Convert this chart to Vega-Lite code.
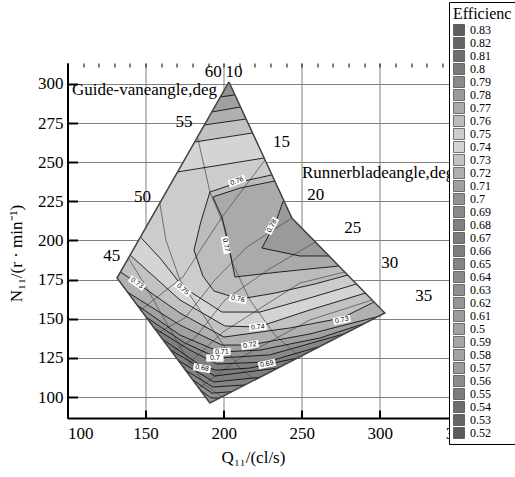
{
  "$schema": "https://vega.github.io/schema/vega-lite/v6.json",
  "width": 406,
  "height": 355,
  "autosize": "none",
  "padding": {"left": 67.5, "top": 63, "right": 41.5, "bottom": 59},
  "background": "white",
  "config": {"view": {"stroke": null}},
  "resolve": {"axis": {"x": "independent", "y": "independent"}},
  "datasets": {
    "bands": [
      {"id":1,"lev":0.62,"o":0,"q":203.4,"n":301.3},{"id":1,"lev":0.62,"o":1,"q":243.7,"n":214.4},{"id":1,"lev":0.62,"o":2,"q":303.2,"n":153.7},{"id":1,"lev":0.62,"o":3,"q":191.2,"n":96.2},{"id":1,"lev":0.62,"o":4,"q":131.7,"n":176.0},
      {"id":2,"lev":0.63,"o":0,"q":185.0,"n":104.5},{"id":2,"lev":0.63,"o":1,"q":191.8,"n":99.4},{"id":2,"lev":0.63,"o":2,"q":197.6,"n":99.4},{"id":2,"lev":0.63,"o":3,"q":303.2,"n":153.7},{"id":2,"lev":0.63,"o":4,"q":243.7,"n":214.4},{"id":2,"lev":0.63,"o":5,"q":203.4,"n":301.3},{"id":2,"lev":0.63,"o":6,"q":131.7,"n":176.0},
      {"id":3,"lev":0.64,"o":0,"q":180.3,"n":110.9},{"id":3,"lev":0.64,"o":1,"q":192.5,"n":102.5},{"id":3,"lev":0.64,"o":2,"q":205.3,"n":103.4},{"id":3,"lev":0.64,"o":3,"q":303.2,"n":153.7},{"id":3,"lev":0.64,"o":4,"q":243.7,"n":214.4},{"id":3,"lev":0.64,"o":5,"q":203.4,"n":301.3},{"id":3,"lev":0.64,"o":6,"q":131.7,"n":176.0},
      {"id":4,"lev":0.65,"o":0,"q":175.5,"n":117.2},{"id":4,"lev":0.65,"o":1,"q":193.1,"n":106.4},{"id":4,"lev":0.65,"o":2,"q":213.6,"n":107.7},{"id":4,"lev":0.65,"o":3,"q":303.2,"n":153.7},{"id":4,"lev":0.65,"o":4,"q":243.7,"n":214.4},{"id":4,"lev":0.65,"o":5,"q":203.4,"n":301.3},{"id":4,"lev":0.65,"o":6,"q":131.7,"n":176.0},
      {"id":5,"lev":0.66,"o":0,"q":170.7,"n":123.6},{"id":5,"lev":0.66,"o":1,"q":193.8,"n":109.6},{"id":5,"lev":0.66,"o":2,"q":223.2,"n":112.6},{"id":5,"lev":0.66,"o":3,"q":303.2,"n":153.7},{"id":5,"lev":0.66,"o":4,"q":243.7,"n":214.4},{"id":5,"lev":0.66,"o":5,"q":203.4,"n":301.3},{"id":5,"lev":0.66,"o":6,"q":131.7,"n":176.0},
      {"id":6,"lev":0.67,"o":0,"q":166.0,"n":130.0},{"id":6,"lev":0.67,"o":1,"q":194.4,"n":113.4},{"id":6,"lev":0.67,"o":2,"q":234.7,"n":118.5},{"id":6,"lev":0.67,"o":3,"q":303.2,"n":153.7},{"id":6,"lev":0.67,"o":4,"q":243.7,"n":214.4},{"id":6,"lev":0.67,"o":5,"q":203.4,"n":301.3},{"id":6,"lev":0.67,"o":6,"q":131.7,"n":176.0},
      {"id":7,"lev":0.68,"o":0,"q":160.7,"n":137.1},{"id":7,"lev":0.68,"o":1,"q":184.8,"n":120.4},{"id":7,"lev":0.68,"o":2,"q":195.0,"n":117.2},{"id":7,"lev":0.68,"o":3,"q":216.8,"n":118.5},{"id":7,"lev":0.68,"o":4,"q":247.5,"n":125.0},{"id":7,"lev":0.68,"o":5,"q":303.2,"n":153.7},{"id":7,"lev":0.68,"o":6,"q":243.7,"n":214.4},{"id":7,"lev":0.68,"o":7,"q":203.4,"n":301.3},{"id":7,"lev":0.68,"o":8,"q":131.7,"n":176.0},
      {"id":8,"lev":0.69,"o":0,"q":155.5,"n":144.1},{"id":8,"lev":0.69,"o":1,"q":178.4,"n":130.0},{"id":8,"lev":0.69,"o":2,"q":195.7,"n":121.1},{"id":8,"lev":0.69,"o":3,"q":227.7,"n":122.4},{"id":8,"lev":0.69,"o":4,"q":261.6,"n":132.3},{"id":8,"lev":0.69,"o":5,"q":303.2,"n":153.7},{"id":8,"lev":0.69,"o":6,"q":243.7,"n":214.4},{"id":8,"lev":0.69,"o":7,"q":203.4,"n":301.3},{"id":8,"lev":0.69,"o":8,"q":131.7,"n":176.0},
      {"id":9,"lev":0.70,"o":0,"q":150.2,"n":151.1},{"id":9,"lev":0.70,"o":1,"q":175.2,"n":134.5},{"id":9,"lev":0.70,"o":2,"q":196.3,"n":124.9},{"id":9,"lev":0.70,"o":3,"q":229.6,"n":126.9},{"id":9,"lev":0.70,"o":4,"q":277.6,"n":140.5},{"id":9,"lev":0.70,"o":5,"q":303.2,"n":153.7},{"id":9,"lev":0.70,"o":6,"q":243.7,"n":214.4},{"id":9,"lev":0.70,"o":7,"q":203.4,"n":301.3},{"id":9,"lev":0.70,"o":8,"q":131.7,"n":176.0},
      {"id":10,"lev":0.71,"o":0,"q":144.5,"n":158.8},{"id":10,"lev":0.71,"o":1,"q":172.0,"n":139.6},{"id":10,"lev":0.71,"o":2,"q":197.6,"n":128.8},{"id":10,"lev":0.71,"o":3,"q":223.2,"n":130.0},{"id":10,"lev":0.71,"o":4,"q":261.6,"n":137.7},{"id":10,"lev":0.71,"o":5,"q":290.4,"n":147.1},{"id":10,"lev":0.71,"o":6,"q":303.2,"n":153.7},{"id":10,"lev":0.71,"o":7,"q":243.7,"n":214.4},{"id":10,"lev":0.71,"o":8,"q":203.4,"n":301.3},{"id":10,"lev":0.71,"o":9,"q":131.7,"n":176.0},
      {"id":11,"lev":0.72,"o":0,"q":138.3,"n":167.1},{"id":11,"lev":0.72,"o":1,"q":172.0,"n":146.0},{"id":11,"lev":0.72,"o":2,"q":198.9,"n":133.2},{"id":11,"lev":0.72,"o":3,"q":216.8,"n":133.2},{"id":11,"lev":0.72,"o":4,"q":255.2,"n":140.3},{"id":11,"lev":0.72,"o":5,"q":298.7,"n":151.4},{"id":11,"lev":0.72,"o":6,"q":303.2,"n":153.7},{"id":11,"lev":0.72,"o":7,"q":243.7,"n":214.4},{"id":11,"lev":0.72,"o":8,"q":203.4,"n":301.3},{"id":11,"lev":0.72,"o":9,"q":131.7,"n":176.0},
      {"id":12,"lev":0.73,"o":0,"q":133.9,"n":179.9},{"id":12,"lev":0.73,"o":1,"q":144.5,"n":172.8},{"id":12,"lev":0.73,"o":2,"q":172.0,"n":153.7},{"id":12,"lev":0.73,"o":3,"q":200.2,"n":138.3},{"id":12,"lev":0.73,"o":4,"q":242.4,"n":144.1},{"id":12,"lev":0.73,"o":5,"q":275.7,"n":150.5},{"id":12,"lev":0.73,"o":6,"q":296.3,"n":160.7},{"id":12,"lev":0.73,"o":7,"q":243.7,"n":214.4},{"id":12,"lev":0.73,"o":8,"q":203.4,"n":301.3},
      {"id":13,"lev":0.74,"o":0,"q":140.1,"n":190.7},{"id":13,"lev":0.74,"o":1,"q":172.0,"n":162.0},{"id":13,"lev":0.74,"o":2,"q":200.8,"n":145.4},{"id":13,"lev":0.74,"o":3,"q":221.9,"n":144.7},{"id":13,"lev":0.74,"o":4,"q":255.2,"n":155.6},{"id":13,"lev":0.74,"o":5,"q":290.7,"n":166.4},{"id":13,"lev":0.74,"o":6,"q":243.7,"n":214.4},{"id":13,"lev":0.74,"o":7,"q":203.4,"n":301.3},
      {"id":14,"lev":0.75,"o":0,"q":146.7,"n":202.2},{"id":14,"lev":0.75,"o":1,"q":159.2,"n":188.8},{"id":14,"lev":0.75,"o":2,"q":173.9,"n":170.3},{"id":14,"lev":0.75,"o":3,"q":198.9,"n":154.3},{"id":14,"lev":0.75,"o":4,"q":223.2,"n":154.3},{"id":14,"lev":0.75,"o":5,"q":255.2,"n":163.3},{"id":14,"lev":0.75,"o":6,"q":285.0,"n":172.2},{"id":14,"lev":0.75,"o":7,"q":243.7,"n":214.4},{"id":14,"lev":0.75,"o":8,"q":203.4,"n":301.3},
      {"id":15,"lev":0.76,"o":0,"q":230.9,"n":241.9},{"id":15,"lev":0.76,"o":1,"q":210.4,"n":237.4},{"id":15,"lev":0.76,"o":2,"q":191.2,"n":231.0},{"id":15,"lev":0.76,"o":3,"q":185.4,"n":211.9},{"id":15,"lev":0.76,"o":4,"q":181.0,"n":193.9},{"id":15,"lev":0.76,"o":5,"q":186.7,"n":177.3},{"id":15,"lev":0.76,"o":6,"q":193.8,"n":167.7},{"id":15,"lev":0.76,"o":7,"q":210.4,"n":162.6},{"id":15,"lev":0.76,"o":8,"q":232.8,"n":166.4},{"id":15,"lev":0.76,"o":9,"q":258.4,"n":172.2},{"id":15,"lev":0.76,"o":10,"q":279.4,"n":177.9},{"id":15,"lev":0.76,"o":11,"q":243.7,"n":214.4},
      {"id":16,"lev":0.77,"o":0,"q":232.7,"n":238.0},{"id":16,"lev":0.77,"o":1,"q":210.4,"n":233.5},{"id":16,"lev":0.77,"o":2,"q":193.1,"n":227.8},{"id":16,"lev":0.77,"o":3,"q":198.9,"n":215.0},{"id":16,"lev":0.77,"o":4,"q":202.7,"n":200.3},{"id":16,"lev":0.77,"o":5,"q":205.3,"n":186.3},{"id":16,"lev":0.77,"o":6,"q":207.2,"n":176.7},{"id":16,"lev":0.77,"o":7,"q":236.0,"n":179.9},{"id":16,"lev":0.77,"o":8,"q":273.8,"n":183.7},{"id":16,"lev":0.77,"o":9,"q":243.7,"n":214.4},
      {"id":17,"lev":0.78,"o":0,"q":238.4,"n":225.9},{"id":17,"lev":0.78,"o":1,"q":233.4,"n":211.9},{"id":17,"lev":0.78,"o":2,"q":224.5,"n":195.2},{"id":17,"lev":0.78,"o":3,"q":248.8,"n":190.1},{"id":17,"lev":0.78,"o":4,"q":267.5,"n":190.1},{"id":17,"lev":0.78,"o":5,"q":243.7,"n":214.4},
      {"id":18,"lev":0.74,"o":0,"q":170.5,"n":243.8},{"id":18,"lev":0.74,"o":1,"q":225.9,"n":252.7},{"id":18,"lev":0.74,"o":2,"q":203.4,"n":301.3},
      {"id":19,"lev":0.73,"o":0,"q":181.4,"n":262.9},{"id":19,"lev":0.73,"o":1,"q":218.5,"n":268.7},{"id":19,"lev":0.73,"o":2,"q":203.4,"n":301.3},
      {"id":20,"lev":0.72,"o":0,"q":187.6,"n":273.8},{"id":20,"lev":0.72,"o":1,"q":214.3,"n":277.6},{"id":20,"lev":0.72,"o":2,"q":203.4,"n":301.3},
      {"id":21,"lev":0.71,"o":0,"q":192.4,"n":282.1},{"id":21,"lev":0.71,"o":1,"q":210.8,"n":285.3},{"id":21,"lev":0.71,"o":2,"q":203.4,"n":301.3},
      {"id":22,"lev":0.70,"o":0,"q":197.9,"n":291.7},{"id":22,"lev":0.70,"o":1,"q":207.2,"n":293.0},{"id":22,"lev":0.70,"o":2,"q":203.4,"n":301.3}
    ],
    "contours": [
      {"c":"c063","o":0,"q":185.0,"n":104.5},{"c":"c063","o":1,"q":191.8,"n":99.4},{"c":"c063","o":2,"q":197.6,"n":99.4},
      {"c":"c064","o":0,"q":180.3,"n":110.9},{"c":"c064","o":1,"q":192.5,"n":102.5},{"c":"c064","o":2,"q":205.3,"n":103.4},
      {"c":"c065","o":0,"q":175.5,"n":117.2},{"c":"c065","o":1,"q":193.1,"n":106.4},{"c":"c065","o":2,"q":213.6,"n":107.7},
      {"c":"c066","o":0,"q":170.7,"n":123.6},{"c":"c066","o":1,"q":193.8,"n":109.6},{"c":"c066","o":2,"q":223.2,"n":112.6},
      {"c":"c067","o":0,"q":166.0,"n":130.0},{"c":"c067","o":1,"q":194.4,"n":113.4},{"c":"c067","o":2,"q":234.7,"n":118.5},
      {"c":"c068","o":0,"q":160.7,"n":137.1},{"c":"c068","o":1,"q":184.8,"n":120.4},{"c":"c068","o":2,"q":195.0,"n":117.2},{"c":"c068","o":3,"q":216.8,"n":118.5},{"c":"c068","o":4,"q":247.5,"n":125.0},
      {"c":"c069","o":0,"q":155.5,"n":144.1},{"c":"c069","o":1,"q":178.4,"n":130.0},{"c":"c069","o":2,"q":195.7,"n":121.1},{"c":"c069","o":3,"q":227.7,"n":122.4},{"c":"c069","o":4,"q":261.6,"n":132.3},
      {"c":"c070","o":0,"q":150.2,"n":151.1},{"c":"c070","o":1,"q":175.2,"n":134.5},{"c":"c070","o":2,"q":196.3,"n":124.9},{"c":"c070","o":3,"q":229.6,"n":126.9},{"c":"c070","o":4,"q":277.6,"n":140.5},
      {"c":"c071","o":0,"q":144.5,"n":158.8},{"c":"c071","o":1,"q":172.0,"n":139.6},{"c":"c071","o":2,"q":197.6,"n":128.8},{"c":"c071","o":3,"q":223.2,"n":130.0},{"c":"c071","o":4,"q":261.6,"n":137.7},{"c":"c071","o":5,"q":290.4,"n":147.1},
      {"c":"c072","o":0,"q":138.3,"n":167.1},{"c":"c072","o":1,"q":172.0,"n":146.0},{"c":"c072","o":2,"q":198.9,"n":133.2},{"c":"c072","o":3,"q":216.8,"n":133.2},{"c":"c072","o":4,"q":255.2,"n":140.3},{"c":"c072","o":5,"q":298.7,"n":151.4},
      {"c":"c073","o":0,"q":133.9,"n":179.9},{"c":"c073","o":1,"q":144.5,"n":172.8},{"c":"c073","o":2,"q":172.0,"n":153.7},{"c":"c073","o":3,"q":200.2,"n":138.3},{"c":"c073","o":4,"q":242.4,"n":144.1},{"c":"c073","o":5,"q":275.7,"n":150.5},{"c":"c073","o":6,"q":296.3,"n":160.7},
      {"c":"c074","o":0,"q":140.1,"n":190.7},{"c":"c074","o":1,"q":172.0,"n":162.0},{"c":"c074","o":2,"q":200.8,"n":145.4},{"c":"c074","o":3,"q":221.9,"n":144.7},{"c":"c074","o":4,"q":255.2,"n":155.6},{"c":"c074","o":5,"q":290.7,"n":166.4},
      {"c":"c075","o":0,"q":146.7,"n":202.2},{"c":"c075","o":1,"q":159.2,"n":188.8},{"c":"c075","o":2,"q":173.9,"n":170.3},{"c":"c075","o":3,"q":198.9,"n":154.3},{"c":"c075","o":4,"q":223.2,"n":154.3},{"c":"c075","o":5,"q":255.2,"n":163.3},{"c":"c075","o":6,"q":285.0,"n":172.2},
      {"c":"c076","o":0,"q":230.9,"n":241.9},{"c":"c076","o":1,"q":210.4,"n":237.4},{"c":"c076","o":2,"q":191.2,"n":231.0},{"c":"c076","o":3,"q":185.4,"n":211.9},{"c":"c076","o":4,"q":181.0,"n":193.9},{"c":"c076","o":5,"q":186.7,"n":177.3},{"c":"c076","o":6,"q":193.8,"n":167.7},{"c":"c076","o":7,"q":210.4,"n":162.6},{"c":"c076","o":8,"q":232.8,"n":166.4},{"c":"c076","o":9,"q":258.4,"n":172.2},{"c":"c076","o":10,"q":279.4,"n":177.9},
      {"c":"c077","o":0,"q":232.7,"n":238.0},{"c":"c077","o":1,"q":210.4,"n":233.5},{"c":"c077","o":2,"q":193.1,"n":227.8},{"c":"c077","o":3,"q":198.9,"n":215.0},{"c":"c077","o":4,"q":202.7,"n":200.3},{"c":"c077","o":5,"q":205.3,"n":186.3},{"c":"c077","o":6,"q":207.2,"n":176.7},{"c":"c077","o":7,"q":236.0,"n":179.9},{"c":"c077","o":8,"q":273.8,"n":183.7},
      {"c":"c078","o":0,"q":238.4,"n":225.9},{"c":"c078","o":1,"q":233.4,"n":211.9},{"c":"c078","o":2,"q":224.5,"n":195.2},{"c":"c078","o":3,"q":248.8,"n":190.1},{"c":"c078","o":4,"q":267.5,"n":190.1},
      {"c":"ta","o":0,"q":197.9,"n":291.7},{"c":"ta","o":1,"q":207.2,"n":293.0},
      {"c":"tb","o":0,"q":192.4,"n":282.1},{"c":"tb","o":1,"q":210.8,"n":285.3},
      {"c":"tc","o":0,"q":187.6,"n":273.8},{"c":"tc","o":1,"q":214.3,"n":277.6},
      {"c":"td","o":0,"q":181.4,"n":262.9},{"c":"td","o":1,"q":218.5,"n":268.7},
      {"c":"te","o":0,"q":170.5,"n":243.8},{"c":"te","o":1,"q":225.9,"n":252.7}
    ],
    "mesh": [
      {"m":"GV55","o":0,"q":183.3,"n":266.1},{"m":"GV55","o":1,"q":191.2,"n":231.0},{"m":"GV55","o":2,"q":199.5,"n":211.2},{"m":"GV55","o":3,"q":205.3,"n":186.3},{"m":"GV55","o":4,"q":216.8,"n":162.0},{"m":"GV55","o":5,"q":232.8,"n":139.6},{"m":"GV55","o":6,"q":248.8,"n":125.7},
      {"m":"GV50","o":0,"q":159.1,"n":224.0},{"m":"GV50","o":1,"q":163.0,"n":200.3},{"m":"GV50","o":2,"q":172.0,"n":174.8},{"m":"GV50","o":3,"q":184.8,"n":155.6},{"m":"GV50","o":4,"q":197.6,"n":136.4},{"m":"GV50","o":5,"q":210.4,"n":118.5},{"m":"GV50","o":6,"q":220.0,"n":110.9},
      {"m":"GV45","o":0,"q":139.0,"n":188.8},{"m":"GV45","o":1,"q":149.6,"n":171.6},{"m":"GV45","o":2,"q":162.4,"n":149.2},{"m":"GV45","o":3,"q":175.2,"n":126.9},{"m":"GV45","o":4,"q":188.0,"n":107.7},{"m":"GV45","o":5,"q":198.9,"n":100.1},
      {"m":"B15","o":0,"q":226.5,"n":251.4},{"m":"B15","o":1,"q":198.9,"n":215.0},{"m":"B15","o":2,"q":173.9,"n":176.7},{"m":"B15","o":3,"q":146.9,"n":155.6},
      {"m":"B20","o":0,"q":243.7,"n":214.4},{"m":"B20","o":1,"q":214.9,"n":195.8},{"m":"B20","o":2,"q":194.4,"n":174.8},{"m":"B20","o":3,"q":175.2,"n":150.5},{"m":"B20","o":4,"q":157.9,"n":140.9},
      {"m":"B25","o":0,"q":258.7,"n":199.0},{"m":"B25","o":1,"q":228.3,"n":181.2},{"m":"B25","o":2,"q":200.8,"n":162.0},{"m":"B25","o":3,"q":181.6,"n":137.7},{"m":"B25","o":4,"q":166.9,"n":128.8},
      {"m":"B30","o":0,"q":277.5,"n":179.9},{"m":"B30","o":1,"q":248.8,"n":172.8},{"m":"B30","o":2,"q":199.5,"n":141.5},{"m":"B30","o":3,"q":174.6,"n":118.5},
      {"m":"B35","o":0,"q":295.1,"n":162.0},{"m":"B35","o":1,"q":255.2,"n":149.2},{"m":"B35","o":2,"q":210.4,"n":124.9},{"m":"B35","o":3,"q":184.0,"n":105.7}
    ],
    "outline": [
      {"o":0,"q":203.4,"n":301.3},{"o":1,"q":243.7,"n":214.4},{"o":2,"q":303.2,"n":153.7},{"o":3,"q":191.2,"n":96.2},{"o":4,"q":131.7,"n":176.0},{"o":5,"q":203.4,"n":301.3}
    ],
    "clabels": [
      {"t":"0.76","q":208.5,"n":238.0,"a":-20},
      {"t":"0.78","q":230.9,"n":209.3,"a":-62},
      {"t":"0.77","q":201.4,"n":197.1,"a":80},
      {"t":"0.76","q":209.1,"n":162.6,"a":10},
      {"t":"0.74","q":221.9,"n":144.7,"a":-6},
      {"t":"0.72","q":216.8,"n":133.2,"a":-10},
      {"t":"0.71","q":198.9,"n":128.8,"a":-3},
      {"t":"0.7","q":194.4,"n":124.9,"a":0},
      {"t":"0.68","q":186.1,"n":118.5,"a":10},
      {"t":"0.69","q":227.7,"n":121.1,"a":-12},
      {"t":"0.73","q":275.7,"n":149.2,"a":-12},
      {"t":"0.75","q":173.9,"n":169.0,"a":40},
      {"t":"0.73","q":144.5,"n":172.8,"a":35}
    ],
    "titles": [
      {"t":"Guide-vaneangle,deg","q":102.9,"n":296.0},
      {"t":"Runnerbladeangle,deg","q":250.1,"n":243.1}
    ],
    "nums": [
      {"t":"60","q":193.4,"n":307.7},
      {"t":"10","q":206.6,"n":307.7},
      {"t":"55","q":174.6,"n":275.4},
      {"t":"50","q":148.0,"n":227.5},
      {"t":"45","q":128.3,"n":190.1},
      {"t":"15","q":237.1,"n":262.9},
      {"t":"20","q":259.0,"n":229.1},
      {"t":"25","q":282.7,"n":208.0},
      {"t":"30","q":306.4,"n":185.6},
      {"t":"35","q":328.2,"n":164.5}
    ]
  },
  "layer": [
    {
      "data": {"name": "bands"},
      "mark": {"type": "line", "strokeOpacity": 0, "strokeWidth": 0},
      "encoding": {
        "x": {"field": "q", "type": "quantitative", "scale": {"domain": [100, 360], "nice": false, "zero": false},
          "axis": {"values": [100,150,200,250,300,350], "grid": true, "gridColor": "#808080", "gridWidth": 1,
            "domainColor": "#000", "domainWidth": 2, "tickColor": "#000", "tickWidth": 2, "tickSize": -8,
            "labelFont": "Liberation Serif", "labelFontSize": 17, "labelColor": "#000", "labelPadding": 15, "labelFlush": true,
            "title": "Q₁₁/(cl/s)", "titleFont": "Liberation Serif", "titleFontSize": 17, "titleFontWeight": "normal", "titleColor": "#000",
            "titleX": 185.5, "titleY": 39, "titleBaseline": "middle", "titleAlign": "center"}},
        "y": {"field": "n", "type": "quantitative", "scale": {"domain": [86.6, 313.4], "nice": false, "zero": false},
          "axis": {"values": [100,125,150,175,200,225,250,275,300], "grid": true, "gridColor": "#808080", "gridWidth": 1,
            "domainColor": "#000", "domainWidth": 2, "tickColor": "#000", "tickWidth": 2, "tickSize": -10,
            "labelFont": "Liberation Serif", "labelFontSize": 17, "labelColor": "#000", "labelPadding": 14.5,
            "title": "N₁₁/(r · min⁻¹)", "titleFont": "Liberation Serif", "titleFontSize": 17, "titleFontWeight": "normal", "titleColor": "#000",
            "titleX": -51.5, "titleY": 190, "titleAngle": -90, "titleBaseline": "middle", "titleAlign": "center"}},
        "fill": {"field": "lev", "type": "ordinal",
          "scale": {"domain": [0.83,0.82,0.81,0.8,0.79,0.78,0.77,0.76,0.75,0.74,0.73,0.72,0.71,0.7,0.69,0.68,0.67,0.66,0.65,0.64,0.63,0.62,0.61,0.6,0.59,0.58,0.57,0.56,0.55,0.54,0.53,0.52],
            "range": ["#5f5f5f","#666666","#6e6e6e","#7a7a7a","#8a8a8a","#9a9a9a","#aaaaaa","#bcbcbc","#cccccc","#d4d4d4","#c2c2c2","#b0b0b0","#a0a0a0","#929292","#888888","#808080","#7c7c7c","#7e7e7e","#848484","#8a8a8a","#909090","#969696","#9c9c9c","#a2a2a2","#a6a6a6","#a2a2a2","#9a9a9a","#8c8c8c","#7c7c7c","#6e6e6e","#646464","#5a5a5a"]},
          "legend": {"orient": "none", "legendX": 381.5, "legendY": -61, "title": "Efficienc",
            "titleFont": "Liberation Serif", "titleFontSize": 16, "titleFontWeight": "normal", "titleColor": "#000", "titlePadding": 2,
            "labelFont": "Liberation Serif", "labelFontSize": 12, "labelColor": "#000", "labelOffset": 5,
            "labelExpr": "datum.label == '0.6' ? '0.5' : datum.label",
            "symbolType": "M-1,-1H1V1H-1Z", "symbolSize": 121, "symbolStrokeColor": "#404040", "symbolStrokeWidth": 0.7,
            "symbolOpacity": 1, "rowPadding": -3.1, "padding": 4, "fillColor": "#ffffff", "strokeColor": "#000", "symbolLimit": 40}},
        "detail": {"field": "id"},
        "order": {"field": "o", "type": "quantitative"}
      }
    },
    {
      "data": {"name": "mesh"},
      "mark": {"type": "line", "stroke": "#555555", "strokeWidth": 0.8},
      "encoding": {
        "x": {"field": "q", "type": "quantitative", "scale": {"domain": [100, 360], "nice": false, "zero": false}, "axis": null},
        "y": {"field": "n", "type": "quantitative", "scale": {"domain": [86.6, 313.4], "nice": false, "zero": false}, "axis": null},
        "detail": {"field": "m"},
        "order": {"field": "o", "type": "quantitative"}
      }
    },
    {
      "data": {"name": "contours"},
      "mark": {"type": "line", "stroke": "#111111", "strokeWidth": 0.9},
      "encoding": {
        "x": {"field": "q", "type": "quantitative", "scale": {"domain": [100, 360], "nice": false, "zero": false}, "axis": null},
        "y": {"field": "n", "type": "quantitative", "scale": {"domain": [86.6, 313.4], "nice": false, "zero": false}, "axis": null},
        "detail": {"field": "c"},
        "order": {"field": "o", "type": "quantitative"}
      }
    },
    {
      "data": {"name": "outline"},
      "mark": {"type": "line", "stroke": "#444444", "strokeWidth": 1.5},
      "encoding": {
        "x": {"field": "q", "type": "quantitative", "scale": {"domain": [100, 360], "nice": false, "zero": false},
          "axis": {"values": [90,100,110,120,130,140,150,160,170,180,190,200,210,220,230,240,250,260,270,280,290,300,310,320,330,340,350,360],
            "tickSize": -4, "tickWidth": 1, "tickColor": "#000", "labels": false, "domain": false, "grid": false, "title": null}},
        "y": {"field": "n", "type": "quantitative", "scale": {"domain": [86.6, 313.4], "nice": false, "zero": false},
          "axis": {"values": [90,95,100,105,110,115,120,125,130,135,140,145,150,155,160,165,170,175,180,185,190,195,200,205,210,215,220,225,230,235,240,245,250,255,260,265,270,275,280,285,290,295,300,305,310],
            "tickSize": -5, "tickWidth": 1, "tickColor": "#000", "labels": false, "domain": false, "grid": false, "title": null}},
        "order": {"field": "o", "type": "quantitative"}
      }
    },
    {
      "data": {"name": "clabels"},
      "mark": {"type": "point", "shape": "M-1,-0.42H1V0.42H-1Z", "size": 300, "filled": true, "color": "#ffffff", "fill": "#ffffff", "stroke": null, "opacity": 1, "fillOpacity": 1},
      "encoding": {
        "x": {"field": "q", "type": "quantitative", "scale": {"domain": [100, 360], "nice": false, "zero": false}, "axis": null},
        "y": {"field": "n", "type": "quantitative", "scale": {"domain": [86.6, 313.4], "nice": false, "zero": false}, "axis": null},
        "angle": {"field": "a", "type": "quantitative", "scale": null}
      }
    },
    {
      "data": {"name": "clabels"},
      "mark": {"type": "text", "font": "Liberation Sans", "fontSize": 7, "color": "#000", "align": "center", "baseline": "middle"},
      "encoding": {
        "x": {"field": "q", "type": "quantitative", "scale": {"domain": [100, 360], "nice": false, "zero": false}, "axis": null},
        "y": {"field": "n", "type": "quantitative", "scale": {"domain": [86.6, 313.4], "nice": false, "zero": false}, "axis": null},
        "angle": {"field": "a", "type": "quantitative", "scale": null},
        "text": {"field": "t"}
      }
    },
    {
      "data": {"name": "titles"},
      "mark": {"type": "text", "font": "Liberation Serif", "fontSize": 17, "color": "#000", "align": "left", "baseline": "middle"},
      "encoding": {
        "x": {"field": "q", "type": "quantitative", "scale": {"domain": [100, 360], "nice": false, "zero": false}, "axis": null},
        "y": {"field": "n", "type": "quantitative", "scale": {"domain": [86.6, 313.4], "nice": false, "zero": false}, "axis": null},
        "text": {"field": "t"}
      }
    },
    {
      "data": {"name": "nums"},
      "mark": {"type": "text", "font": "Liberation Serif", "fontSize": 17, "color": "#000", "align": "center", "baseline": "middle"},
      "encoding": {
        "x": {"field": "q", "type": "quantitative", "scale": {"domain": [100, 360], "nice": false, "zero": false}, "axis": null},
        "y": {"field": "n", "type": "quantitative", "scale": {"domain": [86.6, 313.4], "nice": false, "zero": false}, "axis": null},
        "text": {"field": "t"}
      }
    }
  ]
}
